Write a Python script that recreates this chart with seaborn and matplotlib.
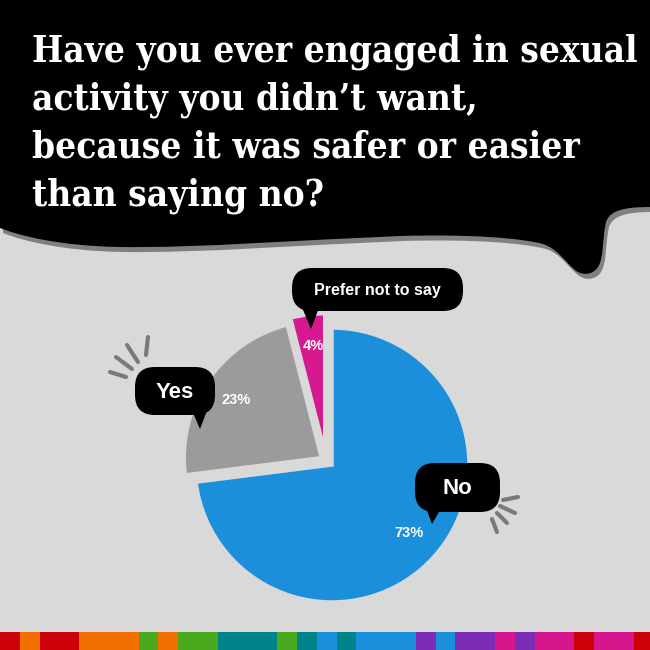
import os
import numpy as np
import matplotlib
matplotlib.use("Agg")
import matplotlib.pyplot as plt
import matplotlib.font_manager as fm
from matplotlib.patches import FancyBboxPatch, Polygon, PathPatch, Rectangle
from matplotlib.path import Path
import seaborn as sns

# ---------------- data ----------------
title_lines = ["Have you ever engaged in sexual",
               "activity you didn\u2019t want,",
               "because it was safer or easier",
               "than saying no?"]
categories = ["No", "Yes", "Prefer not to say"]
values = [73, 23, 4]
slice_colors = ["#1b8fdb", "#9b9b9b", "#d5198e"]
explode = [0.0, 0.095, 0.105]

strip_palette = {"r": "#cc0008", "o": "#f27000", "g": "#49a81b", "t": "#00838b",
                 "b": "#1b8fdb", "p": "#7a2db4", "m": "#d5168c"}
strip_units = list("rorrooogoggtttgtbtbbbpbppmpmmrmmr")

BG = "#d9d9da"
SHADOW = "#7d8184"

sns.set_theme(style="white")
plt.rcParams["font.family"] = ["Liberation Sans", "DejaVu Sans"]


def pick_title_font():
    entries = [f for f in fm.fontManager.ttflist if f.fname.lower().endswith((".ttf", ".otf"))]

    def bold(f):
        b = os.path.basename(f.fname).lower()
        return ("bold" in b and "italic" not in b and "oblique" not in b
                and "extra" not in b and "semi" not in b)

    tests = [
        lambda b: "slab" in b and "condensed" in b,
        lambda b: "serif" in b and "condensed" in b and "sans" not in b,
        lambda b: "slab" in b,
        lambda b: "condensed" in b or "narrow" in b,
    ]
    for test in tests:
        for f in entries:
            b = os.path.basename(f.fname).lower()
            if bold(f) and test(b):
                return fm.FontProperties(fname=f.fname)
    return fm.FontProperties(family="DejaVu Serif", weight="bold")


title_fp = pick_title_font()

fig = plt.figure(figsize=(6.5, 6.5), dpi=100)
fig.patch.set_facecolor(BG)

# background / overlay axes in pixel coordinates (y downwards)
bg = fig.add_axes([0, 0, 1, 1], zorder=0)
bg.set_xlim(0, 650)
bg.set_ylim(650, 0)
bg.set_facecolor(BG)
bg.axis("off")

# title speech bubble
verts = [(0, 0), (650, 0), (650, 207),
         (625, 207), (610, 210), (606, 222),
         (602, 240), (604, 258), (598, 267),
         (593, 275), (582, 276), (575, 270),
         (564, 261), (558, 249), (543, 244),
         (520, 238), (470, 234), (400, 236),
         (300, 240), (200, 248), (120, 247),
         (60, 246), (20, 236), (0, 228),
         (0, 0)]
codes = [Path.MOVETO, Path.LINETO, Path.LINETO] + [Path.CURVE4] * 21 + [Path.CLOSEPOLY]
shape = Path(verts, codes)
shadow = Path([(x + 3, y + 5) for x, y in verts], codes)
bg.add_patch(PathPatch(shadow, facecolor=SHADOW, edgecolor="none", zorder=1))
bg.add_patch(PathPatch(shape, facecolor="black", edgecolor="none", zorder=2))

# bottom colour strip
unit = 19.8
for i, c in enumerate(strip_units):
    bg.add_patch(Rectangle((i * unit, 632), unit + 0.6, 20,
                           facecolor=strip_palette[c], edgecolor="none", zorder=2))

# title text
baselines = [62, 110, 158, 206]
tsize = 29
texts = []
for line, yb in zip(title_lines, baselines):
    t = bg.text(32, yb, line, color="white", fontproperties=title_fp, fontsize=tsize,
                ha="left", va="baseline", zorder=3)
    texts.append(t)
renderer = fig.canvas.get_renderer()
w = texts[0].get_window_extent(renderer).width
new_size = min(tsize * 605 / w, 31)
for t in texts:
    t.set_fontsize(new_size)

# pie axes: centre (332,465) px, radius 137 px
R = 137
cx, cy = 332, 465
half = 1.25 * R
ax = fig.add_axes([(cx - half) / 650, (650 - cy - half) / 650, 2 * half / 650, 2 * half / 650],
                  zorder=1)
ax.set_facecolor("none")
wedges, _, autotexts = ax.pie(values, colors=slice_colors, explode=explode, startangle=90,
                              counterclock=False, radius=1,
                              autopct="%.0f%%", pctdistance=0.75,
                              wedgeprops=dict(edgecolor=BG, linewidth=2.5),
                              textprops=dict(color="white", fontsize=10.5, fontweight="bold",
                                             family=["Liberation Sans", "DejaVu Sans"]))
# nudge the small slice a little further left, as in the original layout
mx, my = wedges[2].center
wedges[2].set_center((mx - 0.04, my))
px, py = autotexts[2].get_position()
autotexts[2].set_position((px - 0.03, py + 0.02))
ax.set_xlim(-1.25, 1.25)
ax.set_ylim(-1.25, 1.25)
ax.set_aspect("equal")
ax.axis("off")

# overlay axes for bubbles
ov = fig.add_axes([0, 0, 1, 1], zorder=2)
ov.set_xlim(0, 650)
ov.set_ylim(650, 0)
ov.set_facecolor("none")
ov.axis("off")


def bubble(x0, y0, x1, y1, tail, text, size, r):
    ov.add_patch(FancyBboxPatch((x0, y0), x1 - x0, y1 - y0,
                                boxstyle=f"round,pad=0,rounding_size={r}",
                                facecolor="black", edgecolor="none"))
    ov.add_patch(Polygon(tail, closed=True, facecolor="black", edgecolor="none"))
    ov.text((x0 + x1) / 2, (y0 + y1) / 2 + 1, text, color="white", fontsize=size,
            fontweight="bold", ha="center", va="center")


bubble(292, 268, 463, 311, [(301, 305), (320, 305), (311, 329)], categories[2], 11.5, 20)
bubble(135, 367, 215, 415, [(191, 408), (208, 408), (200, 429)], categories[1], 16, 20)
bubble(415, 463, 500, 512, [(425, 505), (443, 505), (432, 524)], categories[0], 16, 20)

sparks = [((110, 372), (126, 377)), ((116, 357), (132, 369)), ((127, 345), (138, 362)),
          ((148, 337), (146, 355)),
          ((503, 500), (518, 497)), ((500, 506), (515, 513)), ((497, 513), (507, 523)),
          ((492, 519), (497, 532))]
for (x0, y0), (x1, y1) in sparks:
    ov.plot([x0, x1], [y0, y1], color="#7a7a7a", lw=3, solid_capstyle="round")

fig.savefig("out.png", dpi=100, facecolor=BG)
